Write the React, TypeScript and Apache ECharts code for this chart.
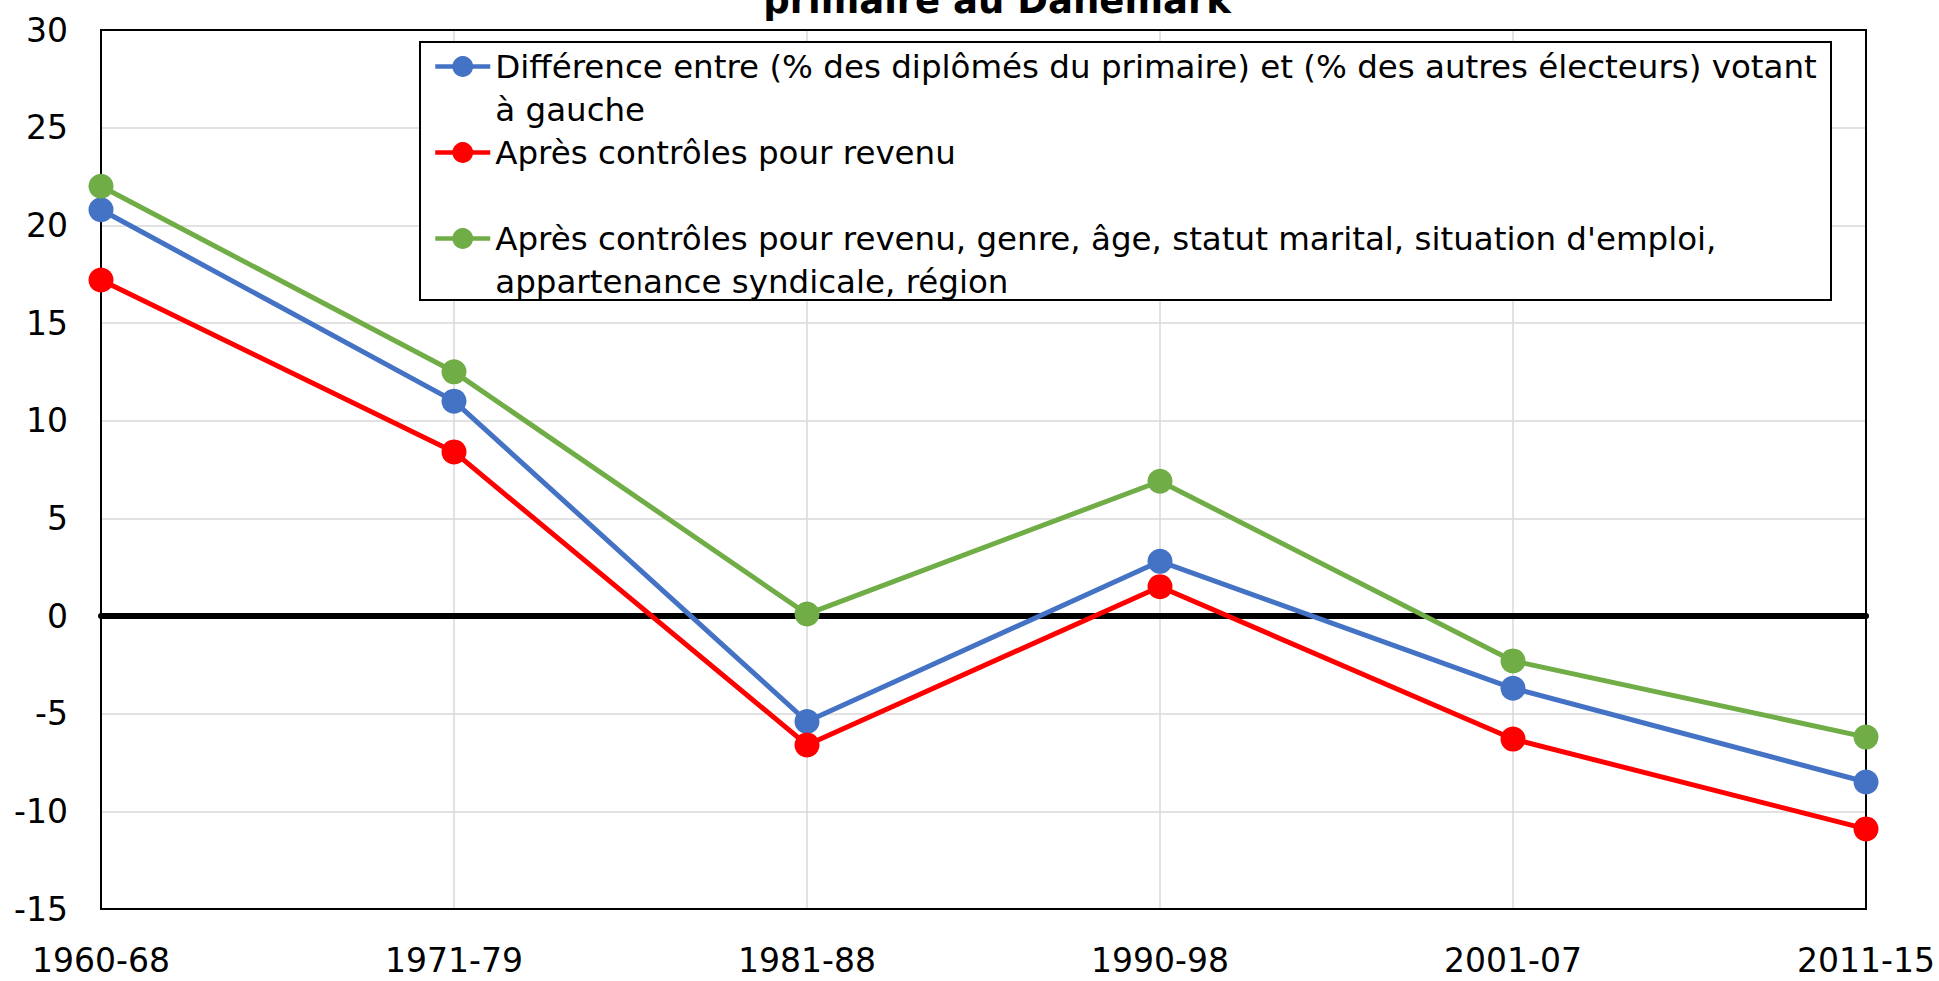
import React, { useEffect, useRef } from 'react';
import * as echarts from 'echarts';

const categories = ['1960-68', '1971-79', '1981-88', '1990-98', '2001-07', '2011-15'];

const seriesNames = [
  'Différence entre (% des diplômés du primaire) et (% des autres électeurs) votant à gauche',
  'Après contrôles pour revenu',
  "Après contrôles pour revenu, genre, âge, statut marital, situation d'emploi, appartenance syndicale, région",
];

// leading blank line keeps each legend marker level with the first text line
const legendLabels = [
  '\nDifférence entre (% des diplômés du primaire) et (% des autres électeurs) votant\nà gauche',
  '\nAprès contrôles pour revenu\n',
  "\nAprès contrôles pour revenu, genre, âge, statut marital, situation d'emploi,\nappartenance syndicale, région",
];

const diffValues = [20.8, 11.0, -5.4, 2.8, -3.7, -8.5];
const revenuValues = [17.2, 8.4, -6.6, 1.5, -6.3, -10.9];
const allControlsValues = [22.0, 12.5, 0.1, 6.9, -2.3, -6.2];

const seriesColors = ['#4472C4', '#FF0000', '#70AD47'];

const yMin = -15;
const yMax = 30;
const yStep = 5;

const titleText = 'primaire au Danemark';

const FONT = "'DejaVu Sans', 'Liberation Sans', sans-serif";

export default function App() {
  const ref = useRef<HTMLDivElement>(null);

  useEffect(() => {
    if (!ref.current) return;
    const chart = echarts.init(ref.current, undefined, { renderer: 'svg' });
    const seriesData = [diffValues, revenuValues, allControlsValues];

    const gridLeft = 101;
    const gridRight = 73;
    const gridTop = 30;
    const gridBottom = 72;
    const W = 1939;
    const H = 981;

    const option: any = {
      animation: false,
      backgroundColor: '#ffffff',
      title: {
        text: titleText,
        left: 997,
        top: -18,
        textAlign: 'center',
        padding: 0,
        textStyle: { fontFamily: FONT, fontSize: 37, fontWeight: 'bold', color: '#000' },
      },
      grid: {
        left: gridLeft,
        right: gridRight,
        top: gridTop,
        bottom: gridBottom,
        show: false,
      },
      xAxis: [
        {
          type: 'category',
          data: categories,
          boundaryGap: false,
          position: 'bottom',
          axisLine: { onZero: false, lineStyle: { color: '#000', width: 2 } },
          axisTick: { show: false },
          axisLabel: { fontFamily: FONT, fontSize: 33, color: '#000', margin: 35 },
          splitLine: { show: true, lineStyle: { color: '#d9d9d9', width: 1.5 } },
        },
        {
          type: 'category',
          data: categories,
          boundaryGap: false,
          position: 'top',
          axisLine: { show: true, onZero: true, lineStyle: { color: '#000', width: 6 } },
          axisTick: { show: false },
          axisLabel: { show: false },
          splitLine: { show: false },
        },
      ],
      yAxis: {
        type: 'value',
        min: yMin,
        max: yMax,
        interval: yStep,
        axisLine: { show: true, onZero: false, lineStyle: { color: '#000', width: 2 } },
        axisTick: { show: false },
        axisLabel: { fontFamily: FONT, fontSize: 33, color: '#000', margin: 33 },
        splitLine: { show: true, lineStyle: { color: '#d9d9d9', width: 1.5 } },
      },
      legend: {
        orient: 'vertical',
        left: 433,
        top: 2,
        padding: 0,
        itemGap: -43,
        itemWidth: 55,
        itemHeight: 26,
        selectedMode: false,
        data: seriesNames,
        formatter: (name: string) => legendLabels[seriesNames.indexOf(name)],
        textStyle: {
          fontFamily: FONT,
          fontSize: 32.5,
          lineHeight: 43,
          color: '#000',
        },
        lineStyle: { width: 4.5 },
      },
      graphic: [
        {
          type: 'rect',
          z: 1,
          silent: true,
          shape: {
            x: gridLeft,
            y: gridTop,
            width: W - gridLeft - gridRight,
            height: H - gridTop - gridBottom,
          },
          style: { fill: 'none', stroke: '#000', lineWidth: 2 },
        },
        {
          type: 'rect',
          z: 3,
          shape: { x: 420, y: 42, width: 1411, height: 258 },
          style: { fill: '#ffffff', stroke: '#000', lineWidth: 2 },
        },
      ],
      series: seriesNames.map((name, i) => ({
        name,
        type: 'line',
        xAxisIndex: 0,
        data: seriesData[i],
        color: seriesColors[i],
        symbol: 'circle',
        symbolSize: 25,
        showSymbol: true,
        lineStyle: { width: 5, color: seriesColors[i] },
        itemStyle: { color: seriesColors[i] },
        z: 2,
      })),
    };

    chart.setOption(option);
    return () => chart.dispose();
  }, []);

  return (
    <div
      ref={ref}
      style={{ position: 'fixed', left: 0, top: 0, width: 1939, height: 981, background: '#fff' }}
    />
  );
}
